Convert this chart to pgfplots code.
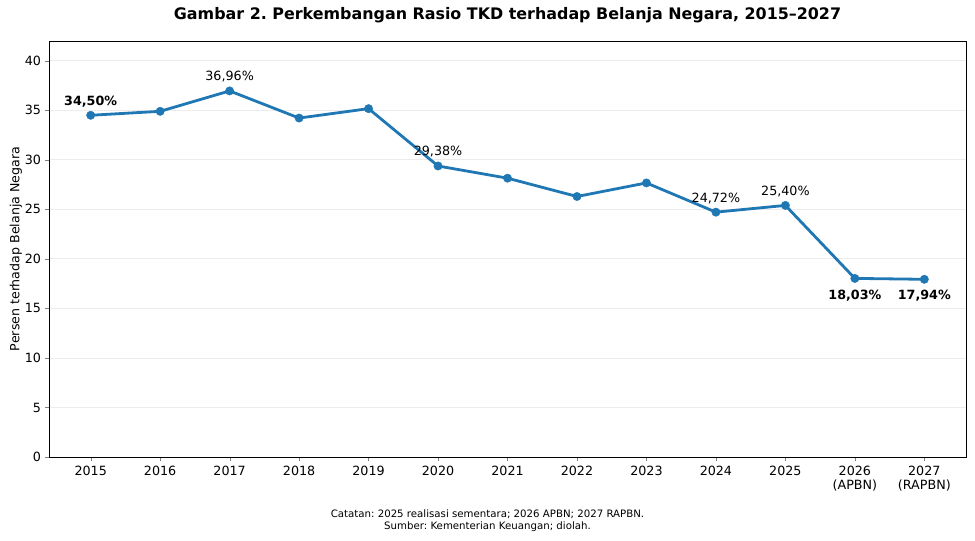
\documentclass[border=0pt]{standalone}
\usepackage{pgfplots}
\pgfplotsset{compat=1.18}
\usepackage{fontspec}
\setmainfont{DejaVu Sans}
\definecolor{mplblue}{HTML}{1F77B4}
\frenchspacing
\begin{document}
\begin{tikzpicture}
\begin{axis}[
  scale only axis,
  width=917pt, height=416pt,
  xmin=-0.6, xmax=12.6, ymin=0, ymax=42,
  xtick={0,...,12},
  xticklabels={2015,2016,2017,2018,2019,2020,2021,2022,2023,2024,2025,{2026\\(APBN)},{2027\\(RAPBN)}},
  xticklabel style={align=center, font=\fontsize{12.7}{14}\selectfont, yshift=-1pt},
  ytick={0,5,...,40},
  yticklabel style={font=\fontsize{12.7}{14}\selectfont},
  /pgf/number format/assume math mode=true,
  tick align=outside, tick pos=left,
  major tick length=4.5pt,
  ymajorgrids, grid style={gray!15, line width=0.8pt},
  axis line style={black, line width=0.9pt},
  ylabel={Persen terhadap Belanja Negara},
  ylabel style={font=\fontsize{12.6}{14}\selectfont, yshift=-4pt},
  title={\textbf{Gambar 2. Perkembangan Rasio TKD terhadap Belanja Negara, 2015–2027}},
  title style={font=\fontsize{15.9}{18}\selectfont, yshift=9pt},
]
\addplot[mplblue, line width=2.8pt, mark=*, mark size=4.2pt, mark options={solid, fill=mplblue, draw=mplblue, line width=0.4pt}] coordinates {
(0,34.50) (1,34.90) (2,36.96) (3,34.22) (4,35.17) (5,29.38) (6,28.15) (7,26.30) (8,27.67) (9,24.72) (10,25.40) (11,18.03) (12,17.94)
};
\begin{scope}[every node/.style={font=\fontsize{12.7}{14}\selectfont}]
\node[font=\fontsize{12.7}{14}\selectfont\bfseries] at (axis cs:0,34.50) [yshift=14pt] {34,50\%};
\node at (axis cs:2,36.96) [yshift=14pt] {36,96\%};
\node at (axis cs:5,29.38) [yshift=14pt] {29,38\%};
\node at (axis cs:9,24.72) [yshift=14pt] {24,72\%};
\node at (axis cs:10,25.40) [yshift=14pt] {25,40\%};
\node[font=\fontsize{12.7}{14}\selectfont\bfseries] at (axis cs:11,18.03) [yshift=-17pt] {18,03\%};
\node[font=\fontsize{12.7}{14}\selectfont\bfseries] at (axis cs:12,17.94) [yshift=-16.5pt] {17,94\%};
\end{scope}
\end{axis}
\node[align=center, font=\fontsize{10.2}{12}\selectfont] at ([xshift=438.5pt, yshift=-64pt]current axis.south west) {Catatan: 2025 realisasi sementara; 2026 APBN; 2027 RAPBN.\\Sumber: Kementerian Keuangan; diolah.};
\path ([xshift=-49pt, yshift=-84pt]current axis.south west) rectangle ([xshift=9pt, yshift=41pt]current axis.north east);
\end{tikzpicture}
\end{document}
